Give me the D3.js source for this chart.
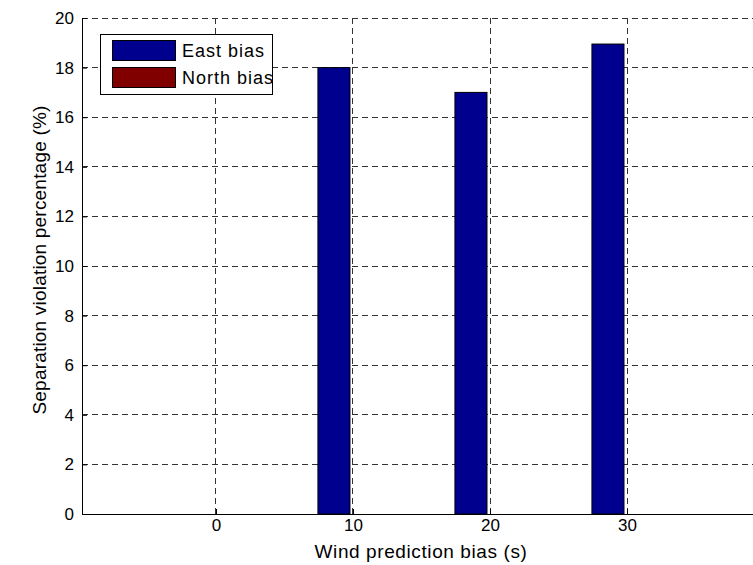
<!DOCTYPE html>
<html>
<head>
<meta charset="utf-8">
<script src="https://cdn.jsdelivr.net/npm/d3@7"></script>
<style>
  body { margin: 0; background: #fff; }
  text { font-family: "Liberation Sans", Arial, sans-serif; fill: #000; }
</style>
</head>
<body>
<svg width="753" height="565"></svg>
<script>
let biases = [0, 10, 20, 30]
let eastBias = [0, 18, 17, 18.95]
let northBias = [0, 0, 0, 0]
let seriesNames = ['East bias', 'North bias']
let seriesColors = ['#00008f', '#800000']
let yTicks = [0, 2, 4, 6, 8, 10, 12, 14, 16, 18, 20]

let svg = d3.select('svg')
let plotLeft = 82, plotTop = 18, plotBottom = 514

let x = d3.scaleLinear().domain([-9.78, 39.78]).range([plotLeft, 761])
let y = d3.scaleLinear().domain([0, 20]).range([plotBottom, plotTop])

// grid
let grid = svg.append('g')
grid.selectAll('.gy')
  .data(yTicks.filter(d => d > 0))
  .join('line')
  .attr('x1', plotLeft).attr('x2', 761)
  .attr('y1', d => y(d)).attr('y2', d => y(d))
grid.selectAll('.gx')
  .data(biases)
  .join('line')
  .attr('x1', d => x(d)).attr('x2', d => x(d))
  .attr('y1', plotTop).attr('y2', plotBottom)
grid.selectAll('line')
  .attr('stroke', '#333')
  .attr('stroke-width', 1)
  .attr('stroke-dasharray', '6,4')
  .attr('shape-rendering', 'crispEdges')

// bars
let offset = 1.39, barW = 2.34
let series = [eastBias, northBias]
series.forEach(function (vals, i) {
  svg.append('g')
    .selectAll('rect')
    .data(vals)
    .join('rect')
    .attr('x', (d, j) => x(biases[j] + (i === 0 ? -offset : offset) - barW / 2))
    .attr('width', x(barW) - x(0))
    .attr('y', d => y(d))
    .attr('height', d => y(0) - y(d))
    .attr('fill', seriesColors[i])
    .attr('stroke', '#000')
    .attr('stroke-width', 1)
})

// axes
let yAxis = d3.axisLeft(y).tickValues(yTicks).tickSize(-5).tickPadding(8).tickFormat(d3.format('d'))
let xAxis = d3.axisBottom(x).tickValues(biases).tickSize(-5).tickPadding(5).tickFormat(d3.format('d'))

let gy = svg.append('g').attr('transform', `translate(${plotLeft},0)`).call(yAxis)
let gx = svg.append('g').attr('transform', `translate(0,${plotBottom})`).call(xAxis)
;[gx, gy].forEach(function (g) {
  g.select('.domain').remove()
  g.selectAll('.tick line').attr('stroke', '#000')
  g.selectAll('.tick text').style('font-size', '17px')
})
svg.append('line').attr('x1', plotLeft).attr('x2', plotLeft).attr('y1', plotTop).attr('y2', plotBottom)
  .attr('stroke', '#000').attr('shape-rendering', 'crispEdges')
svg.append('line').attr('x1', plotLeft).attr('x2', 753).attr('y1', plotBottom).attr('y2', plotBottom)
  .attr('stroke', '#000').attr('shape-rendering', 'crispEdges')

// axis labels
svg.append('text')
  .attr('x', 421).attr('y', 558)
  .attr('text-anchor', 'middle')
  .style('font-size', '19px')
  .style('letter-spacing', '0.6px')
  .text('Wind prediction bias (s)')
svg.append('text')
  .attr('transform', `translate(46,260) rotate(-90)`)
  .attr('text-anchor', 'middle')
  .style('font-size', '19px')
  .style('letter-spacing', '0.2px')
  .text('Separation violation percentage (%)')

// legend
let lg = svg.append('g')
lg.append('rect')
  .attr('x', 100.5).attr('y', 34.5).attr('width', 172).attr('height', 60)
  .attr('fill', '#fff').attr('stroke', '#000')
lg.selectAll('.sw')
  .data(seriesNames)
  .join('rect')
  .attr('x', 112.5).attr('y', (d, i) => 40.5 + i * 27)
  .attr('width', 63).attr('height', 20)
  .attr('fill', (d, i) => seriesColors[i]).attr('stroke', '#000')
lg.selectAll('text')
  .data(seriesNames)
  .join('text')
  .attr('x', 182).attr('y', (d, i) => 57 + i * 27)
  .style('font-size', '18px')
  .style('letter-spacing', '1px')
  .text(d => d)
</script>
</body>
</html>
